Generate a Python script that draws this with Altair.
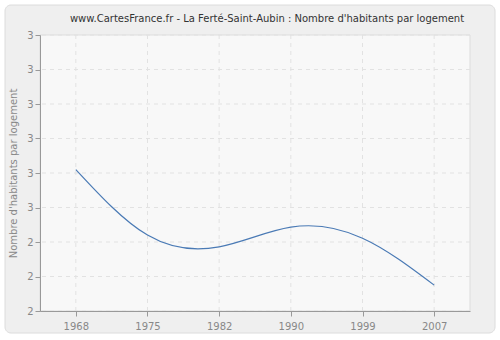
import altair as alt
import pandas as pd

years = ["1968", "1975", "1982", "1990", "1999", "2007"]
values = [2.61, 2.42, 2.386, 2.443, 2.411, 2.275]
y_ticks = [2.2, 2.3, 2.4, 2.5, 2.6, 2.7, 2.8, 2.9, 3.0]

df = pd.DataFrame({"year": years, "value": values})
df_years = pd.DataFrame({"year": years})
df_ticks = pd.DataFrame({"value": y_ticks})

x_axis = alt.Axis(title=None, labelAngle=0, grid=False,
                  domainColor="#999999", tickColor="#999999",
                  labelColor="#888888", labelFont="DejaVu Sans", labelFontSize=10,
                  tickSize=5, labelPadding=5, zindex=1)
y_axis = alt.Axis(title="Nombre d'habitants par logement", values=y_ticks,
                  format=".0f", grid=False,
                  domainColor="#999999", tickColor="#999999", labelColor="#888888",
                  labelFont="DejaVu Sans", labelFontSize=10, tickSize=5,
                  titleColor="#888888", titleFont="DejaVu Sans", titleFontSize=10,
                  titleFontWeight="normal", titlePadding=8, zindex=1)
x_scale = alt.Scale(type="point", padding=0.5, domain=years)
y_scale = alt.Scale(domain=[2.2, 3.0], nice=False, zero=False)

frame = alt.Chart(pd.DataFrame({"k": [0]})).mark_rect(
    fill="#efefef", stroke="#dcdcdc", strokeWidth=1, cornerRadius=6
).encode(
    x=alt.value(-35), x2=alt.value(455), y=alt.value(-30), y2=alt.value(298)
)

plotbg = alt.Chart(pd.DataFrame({"k": [0]})).mark_rect(
    fill="#f8f8f8", stroke="#dddddd", strokeWidth=1
).encode(
    x=alt.value(0), x2=alt.value(430), y=alt.value(0), y2=alt.value(276)
)

xgrid = alt.Chart(df_years).mark_rule(color="#e2e2e2", strokeDash=[4, 4], strokeWidth=1).encode(
    x=alt.X("year:O", scale=x_scale, axis=x_axis)
)
ygrid = alt.Chart(df_ticks).mark_rule(color="#e2e2e2", strokeDash=[4, 4], strokeWidth=1).encode(
    y=alt.Y("value:Q", scale=y_scale, axis=y_axis)
)

line = alt.Chart(df).mark_line(
    color="#4a7ab5", strokeWidth=1.2, interpolate="natural"
).encode(
    x=alt.X("year:O", scale=x_scale, axis=x_axis),
    y=alt.Y("value:Q", scale=y_scale, axis=y_axis),
)

chart = alt.layer(frame, plotbg, xgrid, ygrid, line).properties(
    width=430, height=276,
    title=alt.TitleParams("www.CartesFrance.fr - La Ferté-Saint-Aubin : Nombre d'habitants par logement",
                          font="DejaVu Sans", fontSize=10, fontWeight="normal", color="#333333",
                          anchor="middle", dx=12, offset=0, dy=19, zindex=1),
    autosize=alt.AutoSizeParams(type="none"),
    padding={"left": 40, "top": 35, "right": 30, "bottom": 29},
    background="white",
).configure_view(stroke=None)

chart.save("out.html", embed_options={"renderer": "svg", "actions": False})
